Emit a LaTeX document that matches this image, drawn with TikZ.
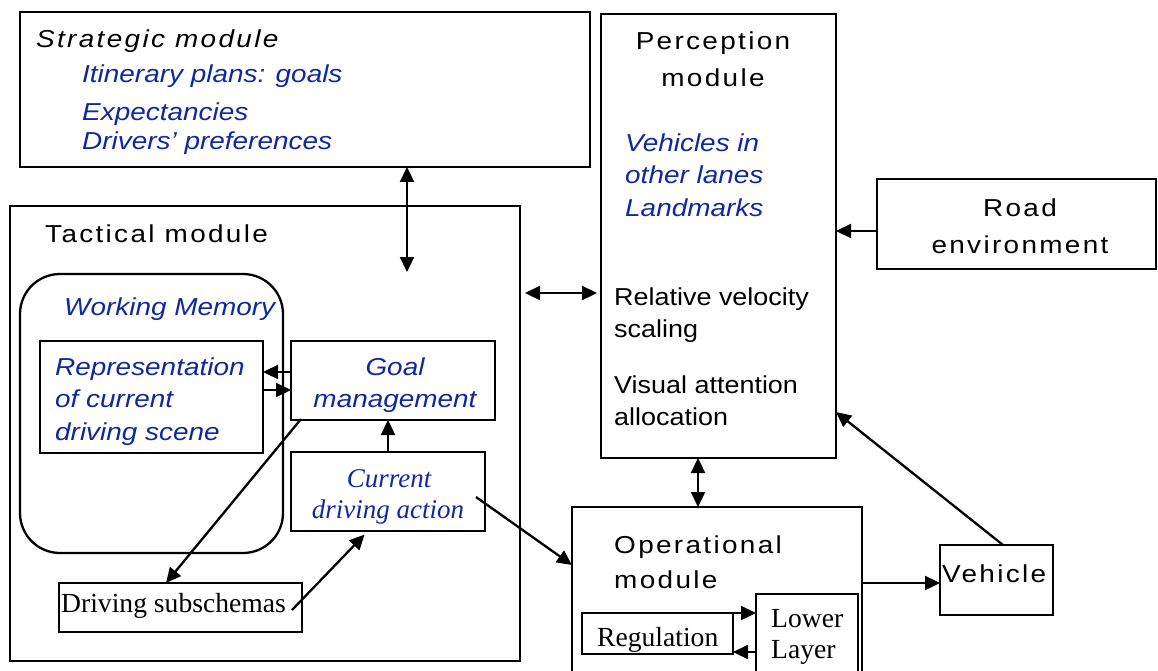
\documentclass[tikz,border=0pt]{standalone}
\usepackage{fontspec}
\usetikzlibrary{arrows.meta}
\newfontfamily\ars[FakeStretch=1.14]{Liberation Sans}
\newfontfamily\arn[FakeStretch=1.1]{Liberation Sans}
\newfontfamily\arw[FakeStretch=1.14,LetterSpace=9.5]{Liberation Sans}
\newfontfamily\tms{Liberation Serif}
\definecolor{dblue}{RGB}{15,40,160}
\tikzset{
  box/.style={draw,line width=2.3pt,inner sep=0pt,outer sep=0pt},
  txt/.style={inner sep=0pt,anchor=base west,font=\arn\fontsize{24.5}{29}\selectfont},
  bt/.style={inner sep=0pt,anchor=base west,text=dblue,font=\ars\itshape\fontsize{24.5}{29}\selectfont},
  wt/.style={inner sep=0pt,anchor=base west,font=\arw\fontsize{24.5}{29}\selectfont},
  wti/.style={inner sep=0pt,anchor=base west,font=\arw\itshape\fontsize{24.5}{29}\selectfont},
  tt/.style={inner sep=0pt,anchor=base west,font=\tms\fontsize{27.6}{32}\selectfont},
  tti/.style={inner sep=0pt,anchor=base,text=dblue,font=\tms\itshape\fontsize{27}{32}\selectfont},
  conn/.style={line width=2.3pt},
  arr/.style={conn,-{Triangle[length=15pt,width=14pt]}},
  darr/.style={conn,{Triangle[length=15pt,width=14pt]}-{Triangle[length=15pt,width=14pt]}}
}
\begin{document}
\begin{tikzpicture}[x=1pt,y=-1pt]
\useasboundingbox (0,0) rectangle (1158,671);
\clip (0,0) rectangle (1158,671);
% boxes
\node[box,minimum width=570pt,minimum height=155pt] (strat) at (305,89.5) {};
\node[box,minimum width=235pt,minimum height=444pt] (perc) at (718.5,236) {};
\node[box,minimum width=279pt,minimum height=90pt] (road) at (1016.5,224) {};
\node[box,minimum width=510pt,minimum height=455pt] (tact) at (265,433.5) {};
\node[box,rounded corners=40pt,minimum width=263pt,minimum height=279pt] (wm) at (151.5,413.5) {};
\node[box,minimum width=223pt,minimum height=112pt] (rep) at (151.5,397) {};
\node[box,minimum width=204pt,minimum height=79pt] (goal) at (393,380.5) {};
\node[box,minimum width=194pt,minimum height=79pt] (cur) at (388,491.5) {};
\node[box,minimum width=243pt,minimum height=49pt] (sub) at (180.5,607.5) {};
\node[box,minimum width=290pt,minimum height=183pt] (oper) at (717,598.5) {};
\node[box,minimum width=151pt,minimum height=41pt] (reg) at (657.5,633.5) {};
\node[box,minimum width=102pt,minimum height=96pt] (lower) at (807,642) {};
\node[box,minimum width=113pt,minimum height=70pt] (veh) at (996.5,580) {};
% texts
\node[wti] (s1) at (36,48) {Strategic module};
\node[bt] (s2) at (82,83) {Itinerary plans: goals};
\node[bt] (s3) at (82,121) {Expectancies};
\node[bt] (s4) at (82,150) {Drivers’ preferences};
\node[wt,anchor=base] (p1) at (713,50) {Perception};
\node[wt,anchor=base] (p2) at (713,87) {module};
\node[bt] (p3) at (625,152) {Vehicles in};
\node[bt] (p4) at (625,183) {other lanes};
\node[bt] (p5) at (625,216) {Landmarks};
\node[txt] (p6) at (614,305) {Relative velocity};
\node[txt] (p7) at (614,337) {scaling};
\node[txt] (p8) at (614,393) {Visual attention};
\node[txt] (p9) at (614,425) {allocation};
\node[wt,anchor=base] (r1) at (1020,216) {Road};
\node[wt,anchor=base] (r2) at (1020,253) {environment};
\node[wt] (t1) at (45,242) {Tactical module};
\node[bt] (w1) at (64,315) {Working Memory};
\node[bt] (rp1) at (55,375) {Representation};
\node[bt] (rp2) at (55,407) {of current};
\node[bt] (rp3) at (55,440) {driving scene};
\node[bt,anchor=base] (g1) at (395,375) {Goal};
\node[bt,anchor=base] (g2) at (395,407) {management};
\node[tti] (c1) at (389,487) {Current};
\node[tti] (c2) at (388,518) {driving action};
\node[tt] (d1) at (61,612) {Driving subschemas};
\node[wt] (o1) at (614,553) {Operational};
\node[wt] (o2) at (614,588) {module};
\node[tt] (rg) at (597,646) {Regulation};
\node[tt] (l1) at (771,627) {Lower};
\node[tt] (l2) at (771,658) {Layer};
\node[wt] (v1) at (942,582) {Vehicle};
% helper coordinates
\coordinate (cA) at (407,272);
\coordinate (cB) at (0,293);
\coordinate (cC) at (0,231);
\coordinate (cD) at (698,0);
\coordinate (cE) at (0,583);
\coordinate (cF) at (1003,0);
\coordinate (cG) at (0,412);
\coordinate (cH) at (476,497);
\coordinate (cI) at (0,565);
\coordinate (cJ) at (0,372);
\coordinate (cK) at (0,390);
\coordinate (cL) at (301,419);
\coordinate (cM) at (166,0);
\coordinate (cN) at (292,610);
\coordinate (cO) at (368,0);
\coordinate (cP) at (0,652);
% connectors
\draw[darr] (strat.south -| cA) -- (cA);
\draw[darr,shorten <=5pt,shorten >=4pt] (tact.east |- cB) -- (perc.west |- cB);
\draw[arr] (road.west |- cC) -- (perc.east |- cC);
\draw[darr] (perc.south -| cD) -- (oper.north -| cD);
\draw[arr] (oper.east |- cE) -- (veh.west |- cE);
\draw[arr] (veh.north -| cF) -- (perc.east |- cG);
\draw[arr] (cH) -- (oper.west |- cI);
\draw[arr] (goal.west |- cJ) -- (rep.east |- cJ);
\draw[arr] (rep.east |- cK) -- (goal.west |- cK);
\draw[arr] (cur.north) -- (goal.south -| cur.north);
\draw[arr] (cL) -- (sub.north -| cM);
\draw[arr,shorten >=5pt] (cN) -- (cur.south -| cO);
\draw[arr] (reg.north east) -- (lower.west |- reg.north east);
\draw[arr] (lower.west |- cP) -- (reg.east |- cP);
\end{tikzpicture}
\end{document}
